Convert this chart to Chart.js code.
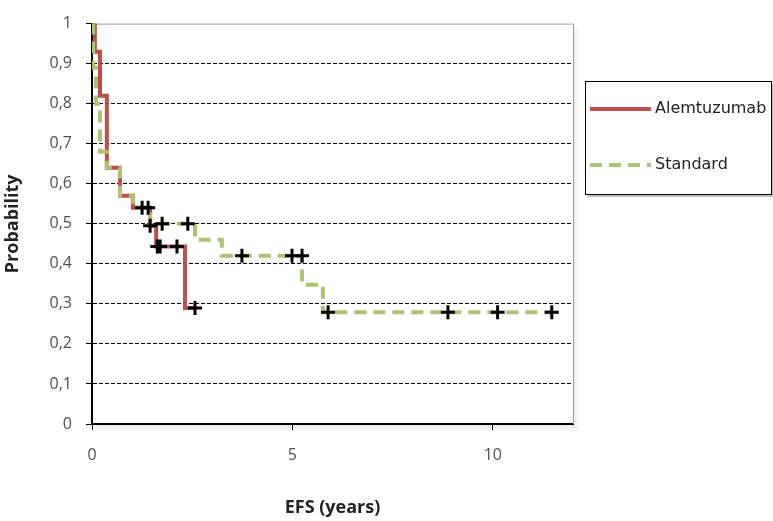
<!DOCTYPE html>
<html>
<head>
<meta charset="utf-8">
<script src="https://cdn.jsdelivr.net/npm/chart.js@4/dist/chart.umd.min.js"></script>
<style>
  html, body { margin: 0; padding: 0; background: #fff; }
  #wrap { width: 773px; height: 521px; position: relative; }
</style>
</head>
<body>
<div id="wrap"><canvas id="mycanvas"></canvas></div>
<script>
// Kaplan-Meier steps (time in years, survival after the event)
var alemTimes = [0, 0.07, 0.2, 0.37, 0.70, 1.02, 1.45, 1.60, 2.32, 2.57];
var alemSurv  = [1, 0.93, 0.82, 0.64, 0.57, 0.54, 0.495, 0.443, 0.29, 0.29];
var stdTimes  = [0, 0.03, 0.10, 0.2, 0.37, 0.70, 1.02, 1.45, 2.57, 3.24, 5.24, 5.76, 11.47];
var stdSurv   = [1, 0.89, 0.80, 0.68, 0.64, 0.57, 0.54, 0.50, 0.46, 0.42, 0.348, 0.279, 0.279];

// censored observations (the black crosses)
var alemCensorT = [1.25, 1.40, 1.45, 1.63, 1.70, 2.12, 2.57];
var alemCensorS = [0.54, 0.54, 0.495, 0.443, 0.443, 0.443, 0.29];
var stdCensorT  = [1.75, 2.39, 3.74, 4.99, 5.24, 5.89, 8.88, 10.12, 11.47];
var stdCensorS  = [0.50, 0.50, 0.42, 0.42, 0.42, 0.279, 0.279, 0.279, 0.279];

var xTicks = [0, 5, 10];
var yTicks = [0, 0.1, 0.2, 0.3, 0.4, 0.5, 0.6, 0.7, 0.8, 0.9, 1];
var yTickLabels = ['0', '0,1', '0,2', '0,3', '0,4', '0,5', '0,6', '0,7', '0,8', '0,9', '1'];
var seriesNames = ['Alemtuzumab', 'Standard'];

var red = '#bd4f4b';
var green = '#aec271';

function pts(xs, ys) {
  var out = [];
  for (var i in xs) out.push({x: xs[i], y: ys[i]});
  return out;
}

var frame = {
  id: 'frame',
  beforeDatasetsDraw: function(chart) {
    var a = chart.chartArea, c = chart.ctx;
    c.save();
    // soft shadow on right and bottom
    for (var k = 1; k <= 6; k++) {
      c.fillStyle = 'rgba(0,0,0,' + (0.09 - k * 0.012) + ')';
      c.fillRect(a.right + k - 1, a.top + 4, 1, a.bottom - a.top + k - 3);
      c.fillRect(a.left + 4, a.bottom + k, a.right - a.left + k - 4, 1);
    }
    c.strokeStyle = '#9a9a9a';
    c.lineWidth = 1;
    c.beginPath();
    c.moveTo(a.left, a.top + 0.5);
    c.lineTo(a.right + 0.5, a.top + 0.5);
    c.lineTo(a.right + 0.5, a.bottom);
    c.stroke();
    c.restore();
  },
  afterDraw: function(chart) {
    var c = chart.ctx;
    var bx = 585, by = 81, bw = 186, bh = 113;
    c.save();
    c.fillStyle = 'rgba(0,0,0,0.25)';
    c.fillRect(bx + 3, by + 3, bw, bh);
    c.fillStyle = '#fff';
    c.fillRect(bx, by, bw, bh);
    c.strokeStyle = '#000';
    c.lineWidth = 1;
    c.strokeRect(bx + 0.5, by + 0.5, bw, bh);
    c.font = '16px "DejaVu Sans"';
    c.textBaseline = 'middle';
    c.fillStyle = '#222';
    var rows = [{y: 109, col: red, dash: []}, {y: 165, col: green, dash: [12, 7]}];
    for (var i = 0; i < rows.length; i++) {
      c.strokeStyle = rows[i].col;
      c.lineWidth = 4;
      c.setLineDash(rows[i].dash);
      c.beginPath();
      c.moveTo(590, rows[i].y);
      c.lineTo(651, rows[i].y);
      c.stroke();
      c.fillText(seriesNames[i], 655, rows[i].y);
    }
    c.restore();
  }
};

var ctx = document.getElementById('mycanvas');
new Chart(ctx, {
  type: 'scatter',
  data: {
    datasets: [
      {
        label: seriesNames[0],
        data: pts(alemTimes, alemSurv),
        showLine: true, stepped: 'before',
        borderColor: red, borderWidth: 4, pointRadius: 0,
        order: 3
      },
      {
        label: seriesNames[1],
        data: pts(stdTimes, stdSurv),
        showLine: true, stepped: 'before',
        borderColor: green, borderWidth: 4, borderDash: [12, 7], pointRadius: 0,
        order: 2
      },
      {
        label: 'cens1',
        data: pts(alemCensorT, alemCensorS),
        showLine: false, pointStyle: 'cross', pointRadius: 7,
        borderColor: '#000', borderWidth: 3,
        order: 1
      },
      {
        label: 'cens2',
        data: pts(stdCensorT, stdCensorS),
        showLine: false, pointStyle: 'cross', pointRadius: 7,
        borderColor: '#000', borderWidth: 3,
        order: 1
      }
    ]
  },
  options: {
    responsive: true,
    maintainAspectRatio: false,
    animation: false,
    layout: { padding: { left: 0, top: 15, right: 200, bottom: 0 } },
    plugins: { legend: { display: false }, tooltip: { enabled: false } },
    scales: {
      x: {
        type: 'linear', min: 0, max: 12,
        afterBuildTicks: function(scale) {
          scale.ticks = xTicks.map(function(v) { return {value: v}; });
        },
        afterFit: function(scale) { scale.height = 97; },
        grid: { drawOnChartArea: false, drawTicks: true, tickLength: 6, tickColor: '#000', tickWidth: 1 },
        border: { display: true, color: '#000', width: 2 },
        ticks: { color: '#505050', font: { family: 'Open Sans', size: 16 }, padding: 16 },
        title: { display: true, text: 'EFS (years)', color: '#222',
                 font: { family: 'Open Sans', size: 18, weight: 'bold' }, padding: { top: 0, bottom: 2 } }
      },
      y: {
        type: 'linear', min: 0, max: 1,
        afterBuildTicks: function(scale) {
          scale.ticks = yTicks.map(function(v) { return {value: v}; });
        },
        afterFit: function(scale) { scale.width = 92; },
        grid: {
          color: function(c) {
            var v = c.tick ? c.tick.value : 0;
            return (v <= 0.001 || v >= 0.999) ? 'rgba(0,0,0,0)' : '#000';
          },
          lineWidth: 1, drawTicks: true, tickLength: 6, tickColor: '#000'
        },
        border: { display: true, color: '#000', width: 2, dash: [4, 2] },
        ticks: {
          color: '#505050', font: { family: 'Open Sans', size: 16 }, padding: 14,
          callback: function(v, i) { return yTickLabels[i]; }
        },
        title: { display: true, text: 'Probability', color: '#222',
                 font: { family: 'Open Sans', size: 18, weight: 'bold' }, padding: { top: 2, bottom: 4 } }
      }
    }
  },
  plugins: [frame]
});
</script>
</body>
</html>
